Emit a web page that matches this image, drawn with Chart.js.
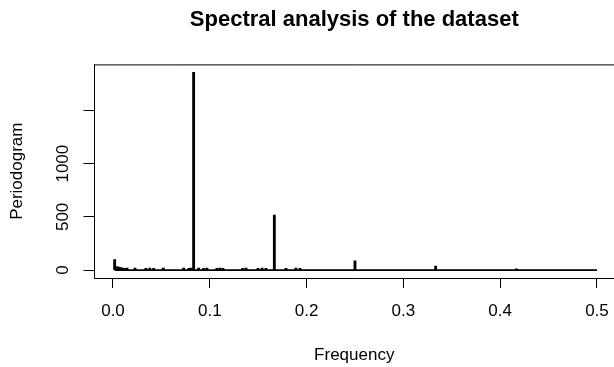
<!DOCTYPE html>
<html lang="en">
<head>
    <meta charset="UTF-8">
    <title>Spectral analysis of the dataset</title>
    <script src="https://cdn.jsdelivr.net/npm/chart.js"></script>
    <style>
        body { margin: 0; background: #fff; }
        #wrap { width: 614px; height: 367px; }
    </style>
</head>
<body>
    <div id="wrap"><canvas id="specChart"></canvas></div>

    <script>
        // periodogram spikes (frequency, periodogram value)
        const frequencies = [0.0017, 0.0033, 0.005, 0.0067, 0.0083, 0.01, 0.0117, 0.0145,
            0.0227, 0.034, 0.038, 0.042, 0.052, 0.073, 0.0785, 0.0806, 0.0833,
            0.0885, 0.0937, 0.097, 0.1074, 0.1105, 0.1136, 0.134, 0.1374, 0.1498,
            0.154, 0.158, 0.1667, 0.1787, 0.189, 0.1932, 0.25, 0.3333, 0.4167];
        const periodogram = [100, 32, 30, 26, 22, 18, 16, 20,
            20, 16, 18, 16, 18, 20, 16, 20, 1858,
            20, 16, 18, 16, 20, 16, 16, 18, 16,
            20, 16, 517, 16, 20, 16, 88, 38, 12];
        const freqRange = [0.0017, 0.5];   // baseline spans the frequency range
        const xTicks = [0, 0.1, 0.2, 0.3, 0.4, 0.5];
        const yTicks = [0, 500, 1000, 1500];
        const yTickLabels = ['0', '500', '1000', ''];

        const FONT = '"Liberation Sans", Arial, sans-serif';

        const spikes = frequencies.map((f, i) => ({ x: f, y: periodogram[i] }));
        const baseline = freqRange.map(f => ({ x: f, y: 0 }));

        // top border + rotated y tick labels, R style
        const rStyle = {
            id: 'rStyle',
            afterDraw(chart) {
                const ctx = chart.ctx;
                const a = chart.chartArea;
                const ys = chart.scales.y;
                ctx.save();
                ctx.strokeStyle = '#000';
                ctx.lineWidth = 1;
                ctx.beginPath();
                ctx.moveTo(a.left, a.top + 0.5);
                ctx.lineTo(a.right, a.top + 0.5);
                ctx.stroke();

                ctx.fillStyle = '#000';
                ctx.font = '17px ' + FONT;
                ctx.textAlign = 'center';
                ctx.textBaseline = 'middle';
                yTicks.forEach((v, i) => {
                    if (!yTickLabels[i]) return;
                    ctx.save();
                    ctx.translate(a.left - 31, ys.getPixelForValue(v));
                    ctx.rotate(-Math.PI / 2);
                    ctx.fillText(yTickLabels[i], 0, 0);
                    ctx.restore();
                });
                ctx.restore();
            }
        };

        const ctx = document.getElementById('specChart').getContext('2d');
        const specChart = new Chart(ctx, {
            type: 'bar',
            data: {
                datasets: [{
                    type: 'bar',
                    data: spikes,
                    backgroundColor: '#000',
                    borderWidth: 0,
                    barThickness: 2.2
                }, {
                    type: 'line',
                    data: baseline,
                    borderColor: '#000',
                    borderWidth: 1.8,
                    pointRadius: 0
                }]
            },
            options: {
                responsive: true,
                maintainAspectRatio: false,
                animation: false,
                layout: { padding: 0 },
                plugins: {
                    legend: { display: false },
                    tooltip: { enabled: false },
                    title: {
                        display: true,
                        text: 'Spectral analysis of the dataset',
                        fullSize: false,
                        color: '#000',
                        font: { family: FONT, size: 22, weight: 'bold' },
                        padding: { top: 7, bottom: 31 }
                    }
                },
                scales: {
                    x: {
                        type: 'linear',
                        offset: false,
                        min: -0.0191,
                        max: 0.5176,
                        afterBuildTicks: s => { s.ticks = xTicks.map(v => ({ value: v })); },
                        afterFit: s => { s.height = 89; s.paddingLeft = 0; s.paddingRight = 0; },
                        grid: { offset: false, drawOnChartArea: false, drawTicks: true, tickLength: 10, color: '#000' },
                        border: { display: true, color: '#000', width: 1 },
                        ticks: {
                            color: '#000',
                            padding: 13,
                            font: { family: FONT, size: 17 },
                            callback: v => v.toFixed(1)
                        },
                        title: {
                            display: true,
                            text: 'Frequency',
                            color: '#000',
                            font: { family: FONT, size: 17 },
                            padding: { top: 0, bottom: 1 }
                        }
                    },
                    y: {
                        type: 'linear',
                        min: -74,
                        max: 1932,
                        afterBuildTicks: s => { s.ticks = yTicks.map(v => ({ value: v })); },
                        afterFit: s => { s.width = 94.5; s.paddingTop = 0; s.paddingBottom = 0; },
                        grid: { drawOnChartArea: false, drawTicks: true, tickLength: 11, color: '#000' },
                        border: { display: true, color: '#000', width: 1 },
                        ticks: { display: false },
                        title: {
                            display: true,
                            text: 'Periodogram',
                            color: '#000',
                            font: { family: FONT, size: 17 },
                            padding: { top: 7, bottom: 0 }
                        }
                    }
                }
            },
            plugins: [rStyle]
        });
    </script>
</body>
</html>
